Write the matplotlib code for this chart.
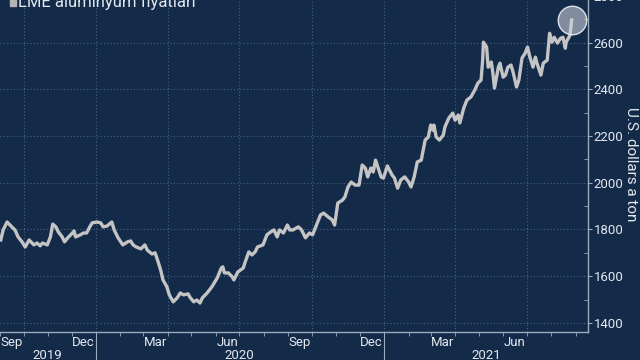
import numpy as np
import matplotlib.pyplot as plt
import matplotlib.dates as mdates
from matplotlib.ticker import MultipleLocator
from matplotlib.transforms import blended_transform_factory
from matplotlib.patches import Rectangle
from matplotlib.lines import Line2D

plt.rcParams['font.family'] = ['Roboto', 'DejaVu Sans']

# LME aluminium, USD/ton
dates = ['2019-09-02', '2019-09-05', '2019-09-10', '2019-09-16', '2019-09-20', '2019-09-24',
         '2019-09-29', '2019-10-03', '2019-10-08', '2019-10-14', '2019-10-18', '2019-10-22',
         '2019-10-25', '2019-10-31', '2019-11-04', '2019-11-07', '2019-11-11', '2019-11-14',
         '2019-11-19', '2019-11-22', '2019-11-26', '2019-12-02', '2019-12-04', '2019-12-06',
         '2019-12-12', '2019-12-16', '2019-12-20', '2019-12-24', '2019-12-27', '2020-01-02',
         '2020-01-07', '2020-01-10', '2020-01-15', '2020-01-21', '2020-01-24', '2020-01-29',
         '2020-02-04', '2020-02-10', '2020-02-14', '2020-02-17', '2020-02-21', '2020-02-27',
         '2020-03-03', '2020-03-06', '2020-03-12', '2020-03-16', '2020-03-19', '2020-03-23',
         '2020-03-26', '2020-03-31', '2020-04-03', '2020-04-08', '2020-04-13', '2020-04-17',
         '2020-04-21', '2020-04-27', '2020-04-29', '2020-05-04', '2020-05-08', '2020-05-12',
         '2020-05-15', '2020-05-21', '2020-05-27', '2020-06-03', '2020-06-08', '2020-06-10',
         '2020-06-12', '2020-06-17', '2020-06-22', '2020-06-24', '2020-06-29', '2020-07-06',
         '2020-07-08', '2020-07-13', '2020-07-17', '2020-07-21', '2020-07-24', '2020-07-31',
         '2020-08-05', '2020-08-10', '2020-08-14', '2020-08-18', '2020-08-21', '2020-08-26',
         '2020-08-31', '2020-09-03', '2020-09-07', '2020-09-14', '2020-09-18', '2020-09-23',
         '2020-09-28', '2020-10-02', '2020-10-08', '2020-10-12', '2020-10-16', '2020-10-22',
         '2020-10-27', '2020-10-30', '2020-11-03', '2020-11-09', '2020-11-12', '2020-11-16',
         '2020-11-20', '2020-11-25', '2020-11-30', '2020-12-04', '2020-12-08', '2020-12-11',
         '2020-12-15', '2020-12-18', '2020-12-21', '2020-12-23', '2020-12-28', '2020-12-31',
         '2021-01-05', '2021-01-11', '2021-01-14', '2021-01-18', '2021-01-22', '2021-01-27',
         '2021-02-01', '2021-02-04', '2021-02-08', '2021-02-12', '2021-02-17', '2021-02-22',
         '2021-02-26', '2021-03-01', '2021-03-04', '2021-03-05', '2021-03-08', '2021-03-12',
         '2021-03-17', '2021-03-19', '2021-03-24', '2021-03-29', '2021-04-01', '2021-04-05',
         '2021-04-07', '2021-04-12', '2021-04-16', '2021-04-21', '2021-04-26', '2021-04-30',
         '2021-05-04', '2021-05-06', '2021-05-07', '2021-05-11', '2021-05-13', '2021-05-17',
         '2021-05-19', '2021-05-21', '2021-05-26', '2021-05-28', '2021-06-01', '2021-06-04',
         '2021-06-07', '2021-06-11', '2021-06-14', '2021-06-18', '2021-06-21', '2021-06-25',
         '2021-06-29', '2021-07-02', '2021-07-05', '2021-07-09', '2021-07-12', '2021-07-14',
         '2021-07-19', '2021-07-22', '2021-07-27', '2021-07-30', '2021-08-02', '2021-08-05',
         '2021-08-09', '2021-08-13', '2021-08-16', '2021-08-19', '2021-08-20', '2021-08-25',
         '2021-08-27']
prices = [1755, 1798, 1832, 1811, 1798, 1768,
          1747, 1725, 1755, 1734, 1742, 1730,
          1742, 1734, 1768, 1823, 1811, 1790,
          1768, 1747, 1764, 1785, 1794, 1768,
          1777, 1785, 1785, 1811, 1828, 1832,
          1828, 1811, 1815, 1832, 1798, 1764,
          1734, 1747, 1751, 1734, 1725, 1717,
          1734, 1712, 1695, 1700, 1670, 1627,
          1584, 1554, 1520, 1490, 1507, 1528,
          1520, 1524, 1511, 1490, 1498, 1485,
          1507, 1528, 1554, 1593, 1635, 1640,
          1614, 1614, 1597, 1584, 1618, 1635,
          1657, 1704, 1691, 1704, 1725, 1734,
          1777, 1790, 1798, 1768, 1798, 1785,
          1819, 1798, 1798, 1811, 1798, 1764,
          1785, 1777, 1828, 1862, 1870, 1853,
          1841, 1819, 1913, 1926, 1939, 1982,
          2003, 1990, 1990, 2076, 2063, 2025,
          2063, 2046, 2097, 2076, 2025, 2020,
          2072, 2033, 2020, 1977, 2012, 2025,
          2003, 1982, 2025, 2089, 2097, 2183,
          2196, 2247, 2225, 2247, 2196, 2183,
          2204, 2238, 2277, 2298, 2268, 2290,
          2256, 2320, 2354, 2367, 2397, 2427,
          2440, 2525, 2602, 2581, 2495, 2517,
          2469, 2405, 2495, 2512, 2452, 2461,
          2495, 2504, 2469, 2410, 2440, 2534,
          2555, 2581, 2538, 2495, 2538, 2512,
          2461, 2512, 2525, 2640, 2602, 2623,
          2598, 2619, 2623, 2576, 2602, 2632,
          2697]

month_ticks = ['2019-09-16', '2019-12-16', '2020-03-16', '2020-06-16',
               '2020-09-16', '2020-12-16', '2021-03-16', '2021-06-16']
month_labels = ['Sep', 'Dec', 'Mar', 'Jun', 'Sep', 'Dec', 'Mar', 'Jun']
years = ['2019', '2020', '2021']
year_centers = ['2019-10-31', '2020-07-01', '2021-05-10']
year_breaks = ['2020-01-01', '2021-01-01']
quarter_lines = ['2019-10-01', '2020-01-01', '2020-04-01', '2020-07-01',
                 '2020-10-01', '2021-01-01', '2021-04-01', '2021-07-01']

BG = '#132a49'
TXT = '#e4e9ef'
GRID = '#4a6482'
AXC = '#9aabbd'

fig = plt.figure(figsize=(6.4, 3.6), dpi=100, facecolor=BG)
ax = fig.add_axes([0, 0.0778, 0.919, 0.940])
ax.set_facecolor(BG)

x = np.array(dates, dtype='datetime64[D]')
ax.plot(x, prices, color='#c4c4c4', lw=2.4, solid_joinstyle='round', zorder=3)
ax.scatter(x[-1:], prices[-1:], s=420, facecolor=(0.80, 0.82, 0.85, 0.6),
           edgecolor='#dfe3e8', lw=1, zorder=4)

ax.set_xlim(np.datetime64('2019-09-01'), np.datetime64('2021-09-17'))
ax.set_ylim(1361, 2810)

# grid
for q in quarter_lines:
    ax.axvline(np.datetime64(q), color=GRID, lw=0.8, ls=(0, (1, 2)), zorder=1)
ax.yaxis.grid(True, color=GRID, lw=0.8, ls=(0, (1, 2)))

# y axis on the right
ax.yaxis.tick_right()
ax.yaxis.set_major_locator(MultipleLocator(200))
ax.yaxis.set_minor_locator(MultipleLocator(100))
ax.tick_params(axis='y', which='major', length=3, direction='out', color=AXC,
               labelcolor=TXT, labelsize=9.5, pad=1)
ax.tick_params(axis='y', which='minor', length=3, direction='in', color=AXC)

# x axis
ax.set_xticks(np.array(month_ticks, dtype='datetime64[D]'))
ax.set_xticklabels(month_labels)
ax.xaxis.set_minor_locator(mdates.MonthLocator())
ax.tick_params(axis='x', which='major', length=0, labelcolor=TXT, labelsize=9.5, pad=3)
ax.tick_params(axis='x', which='minor', length=3, direction='out', color=AXC)

for s in ['left', 'top']:
    ax.spines[s].set_visible(False)
for s in ['right', 'bottom']:
    ax.spines[s].set_color(AXC)
    ax.spines[s].set_linewidth(1)

trans = blended_transform_factory(ax.transData, ax.transAxes)
for yr, c in zip(years, year_centers):
    ax.text(np.datetime64(c), -0.068, yr, transform=trans, ha='center', va='center',
            color=TXT, fontsize=9.5)
for b in year_breaks:
    xb = mdates.date2num(np.datetime64(b))
    ax.add_line(Line2D([xb, xb], [0, -0.1], transform=trans, color=AXC, lw=0.8,
                       clip_on=False))

# legend + unit label
fig.patches.append(Rectangle((10 / 640, 1 - 6 / 360), 6 / 640, 8 / 360,
                             transform=fig.transFigure, color='#b4b4b4'))
fig.text(18 / 640, 1 - 7.5 / 360, 'LME alüminyum fiyatları', fontsize=12,
         color=TXT, va='baseline', ha='left')
fig.text(631 / 640, 1 - 164 / 360, 'U.S. dollars a ton', rotation=270,
         ha='center', va='center', fontsize=11, color=TXT)

fig.savefig('out.png', dpi=100, facecolor=BG)
